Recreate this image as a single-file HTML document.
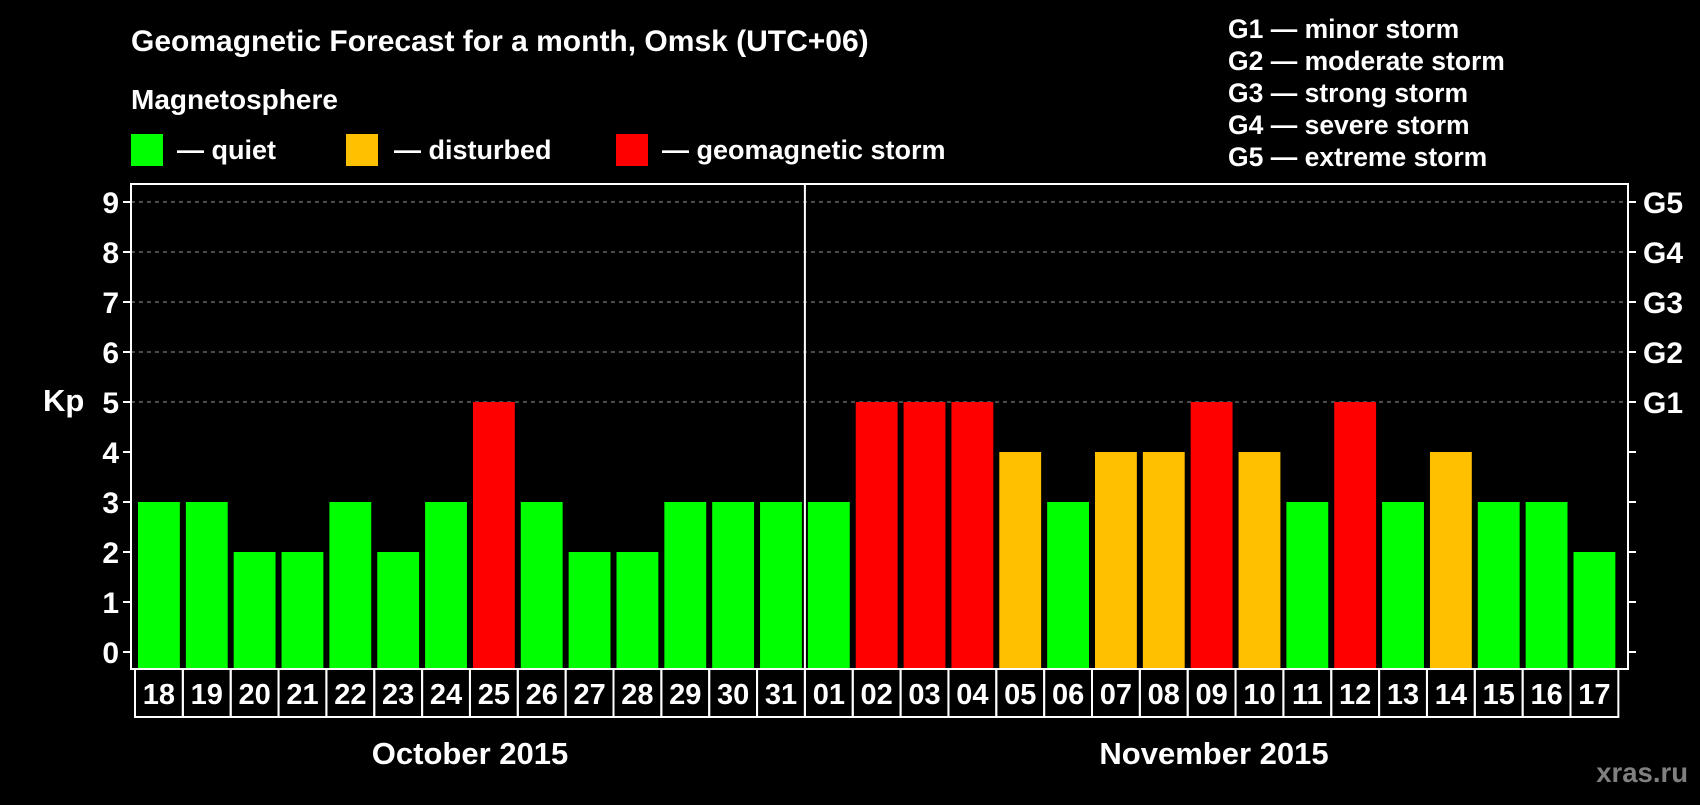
<!DOCTYPE html>
<html><head><meta charset="utf-8"><style>
body{margin:0;background:#000;width:1700px;height:800px;overflow:hidden}
svg text{font-family:"Liberation Sans",Arial,sans-serif;font-weight:bold;fill:#fff}
</style></head><body>
<svg id="c" width="1700" height="800">
<text x="131" y="51" font-size="30">Geomagnetic Forecast for a month, Omsk (UTC+06)</text>
<text x="131" y="109" font-size="28">Magnetosphere</text>
<rect x="131" y="134" width="32" height="32" fill="#00ff00"/>
<text x="177" y="159" font-size="27">— quiet</text>
<rect x="346" y="134" width="32" height="32" fill="#ffc000"/>
<text x="394" y="159" font-size="27">— disturbed</text>
<rect x="616" y="134" width="32" height="32" fill="#ff0000"/>
<text x="662" y="159" font-size="27">— geomagnetic storm</text>
<g font-size="26.5">
<text x="1228" y="38">G1 — minor storm</text>
<text x="1228" y="70">G2 — moderate storm</text>
<text x="1228" y="102">G3 — strong storm</text>
<text x="1228" y="134">G4 — severe storm</text>
<text x="1228" y="166">G5 — extreme storm</text>
</g>
<text x="43" y="411" font-size="31">Kp</text>
<text x="470" y="764" font-size="31" text-anchor="middle">October 2015</text>
<text x="1214" y="764" font-size="31" text-anchor="middle">November 2015</text>
<text x="1688" y="782" font-size="27.5" text-anchor="end" style="fill:#808080">xras.ru</text>
<g id="plot"></g>
</svg>
<script>
const days=["18","19","20","21","22","23","24","25","26","27","28","29","30","31","01","02","03","04","05","06","07","08","09","10","11","12","13","14","15","16","17"];
const kp=[3,3,2,2,3,2,3,5,3,2,2,3,3,3,3,5,5,5,4,3,4,4,5,4,3,5,3,4,3,3,2];
const yTicks=[0,1,2,3,4,5,6,7,8,9];
const gLabels=["","","","","","G1","G2","G3","G4","G5"];
const NS="http://www.w3.org/2000/svg";
const g=document.getElementById('plot');
const L=131,R=1628,T=184,B=669;
const y=v=>652-v*50;
const pitch=47.85,x0=135;
const x=i=>x0+i*pitch;
function mk(t,a){const e=document.createElementNS(NS,t);for(const k in a)e.setAttribute(k,a[k]);g.appendChild(e);return e;}
const col=v=>v>=5?"#ff0000":(v>=4?"#ffc000":"#00ff00");
yTicks.forEach((v,i)=>{
 if(v>=5){const d=mk('line',{x1:L,x2:R,y1:y(v),y2:y(v),stroke:'#999','stroke-width':1,'stroke-dasharray':'4,4'});
 
 }
 const t1=mk('line',{x1:L-8,x2:L,y1:y(v),y2:y(v),stroke:'#fff','stroke-width':2});
 
 
 const t2=mk('line',{x1:R,x2:R+8,y1:y(v),y2:y(v),stroke:'#fff','stroke-width':2});
 
 
 const lb=mk('text',{x:L-12,y:y(v)+11,'font-size':30,'text-anchor':'end'});lb.textContent=v;
 
 
 if(gLabels[i]){const gl=mk('text',{x:R+15,y:y(v)+11,'font-size':30});gl.textContent=gLabels[i];
 
 }
});
kp.forEach((v,i)=>{
 const r=mk('rect',{x:x(i)+3,y:y(v),width:pitch-6,height:B-y(v),fill:col(v)});
 
 
 const bx=mk('rect',{x:x(i),y:B,width:pitch,height:48,fill:'none',stroke:'#fff','stroke-width':2});
 
 
 const t=mk('text',{x:x(i)+pitch/2,y:B+35,'font-size':29,'text-anchor':'middle'});t.textContent=days[i];
 
 
});
const fr=mk('rect',{x:L,y:T,width:R-L,height:B-T,fill:'none',stroke:'#fff','stroke-width':2});


const si=days.indexOf("01");
const sep=mk('line',{x1:x(si),x2:x(si),y1:T,y2:B,stroke:'#fff','stroke-width':2});


</script>
</body></html>
